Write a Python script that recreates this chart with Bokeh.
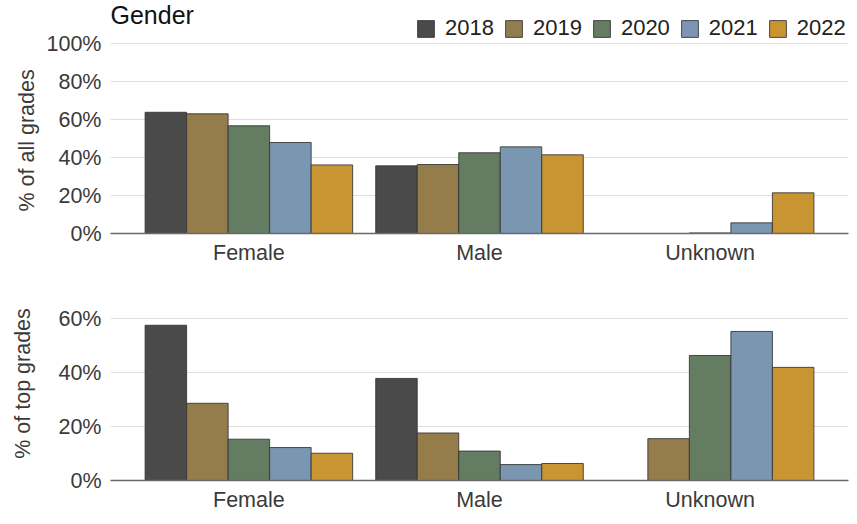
from bokeh.plotting import figure
from bokeh.models import (FactorRange, Range1d, ColumnDataSource, Legend, LegendItem,
                          Label, Title, FixedTicker, PrintfTickFormatter)
from bokeh.transform import dodge
from bokeh.layouts import column
from bokeh.embed import file_html
from bokeh.resources import INLINE

genders = ["Female", "Male", "Unknown"]
years = ["2018", "2019", "2020", "2021", "2022"]
colors = ["#4a4a4a", "#957c4b", "#637c62", "#7a96b0", "#c99533"]

# % of all grades (Female, Male, Unknown)
all_2018 = [63.8, 35.6, 0.0]
all_2019 = [63.0, 36.3, 0.0]
all_2020 = [56.7, 42.5, 0.3]
all_2021 = [47.9, 45.6, 5.6]
all_2022 = [36.1, 41.4, 21.4]

# % of top grades (Female, Male, Unknown)
top_2018 = [57.5, 37.8, float("nan")]
top_2019 = [28.6, 17.6, 15.5]
top_2020 = [15.3, 10.9, 46.3]
top_2021 = [12.2, 5.9, 55.2]
top_2022 = [10.1, 6.3, 41.9]

all_ticks = [0, 20, 40, 60, 80, 100]
top_ticks = [0, 20, 40, 60]

FONT = "Liberation Sans"
FS = "21.5px"
TXT = "#3a3a3a"

all_data = dict(g=genders, y2018=all_2018, y2019=all_2019, y2020=all_2020, y2021=all_2021, y2022=all_2022)
top_data = dict(g=genders, y2018=top_2018, y2019=top_2019, y2020=top_2020, y2021=top_2021, y2022=top_2022)


def make_fig(data, ticks, height, border_top, ytop):
    p = figure(width=849, height=height, output_backend="svg", toolbar_location=None,
               x_range=FactorRange(*genders, range_padding=0.2 / 3),
               y_range=Range1d(0, ytop),
               min_border_left=110, min_border_right=1, min_border_top=border_top,
               min_border_bottom=42)
    src = ColumnDataSource(data)
    renderers = []
    for i, (yr, c) in enumerate(zip(years, colors)):
        r = p.vbar(x=dodge("g", (i - 2) * 0.18, range=p.x_range), top="y" + yr, width=0.18,
                   source=src, fill_color=c, line_color="#333333", line_alpha=0.85, line_width=1)
        renderers.append(r)
    p.outline_line_color = None
    p.xgrid.grid_line_color = None
    p.ygrid.grid_line_color = "#dedede"
    p.ygrid.grid_line_width = 1
    p.yaxis.ticker = FixedTicker(ticks=ticks)
    p.yaxis.formatter = PrintfTickFormatter(format="%d%%")
    p.yaxis.axis_line_color = None
    p.yaxis.major_label_standoff = 9
    p.xaxis.axis_line_color = "#6a6a6a"
    p.xaxis.axis_line_width = 1.3
    p.xaxis.major_label_standoff = 7
    for ax in (p.xaxis[0], p.yaxis[0]):
        ax.major_tick_line_color = None
        ax.minor_tick_line_color = None
        ax.major_tick_out = 0
        ax.major_tick_in = 0
        ax.minor_tick_out = 0
        ax.minor_tick_in = 0
        ax.major_label_text_font = FONT
        ax.major_label_text_font_size = FS
        ax.major_label_text_color = TXT
        ax.axis_label_text_font = FONT
        ax.axis_label_text_font_size = FS
        ax.axis_label_text_font_style = "normal"
        ax.axis_label_text_color = TXT
    return p, renderers


# top panel: frame from y=0 to y=233 (1.9 px per %)
p1, r1 = make_fig(all_data, all_ticks, 275, 0, 233 / 1.9)
# bottom panel: frame from y=286 to y=480 (2.7 px per %)
p2, r2 = make_fig(top_data, top_ticks, 247, 11, 194 / 2.7)
p2.yaxis.axis_label = "% of top grades"
p2.yaxis.axis_label_standoff = 20

# top panel y label as a side title, shifted to centre on the 0-100% span
p1.add_layout(Title(text="% of all grades", align="left", offset=22, standoff=10,
                    text_font=FONT, text_font_size=FS, text_font_style="normal",
                    text_color=TXT), "left")

legend = Legend(items=[LegendItem(label=yr, renderers=[r]) for yr, r in zip(years, r1)],
                orientation="horizontal", location=(305, 192),
                glyph_width=21, glyph_height=21, label_height=21, label_standoff=9, spacing=9,
                padding=0, margin=0, background_fill_alpha=0, border_line_color=None,
                label_text_font=FONT, label_text_font_size="22px", label_text_color="#222222")
p1.add_layout(legend)

p1.add_layout(Label(x=0, y=233 / 1.9, x_units="screen", y_units="data", text="Gender",
                    text_font=FONT, text_font_size="25px", text_color="#111111",
                    text_baseline="top"))

layout = column(p1, p2)
open("out.html", "w").write(file_html(layout, INLINE))
